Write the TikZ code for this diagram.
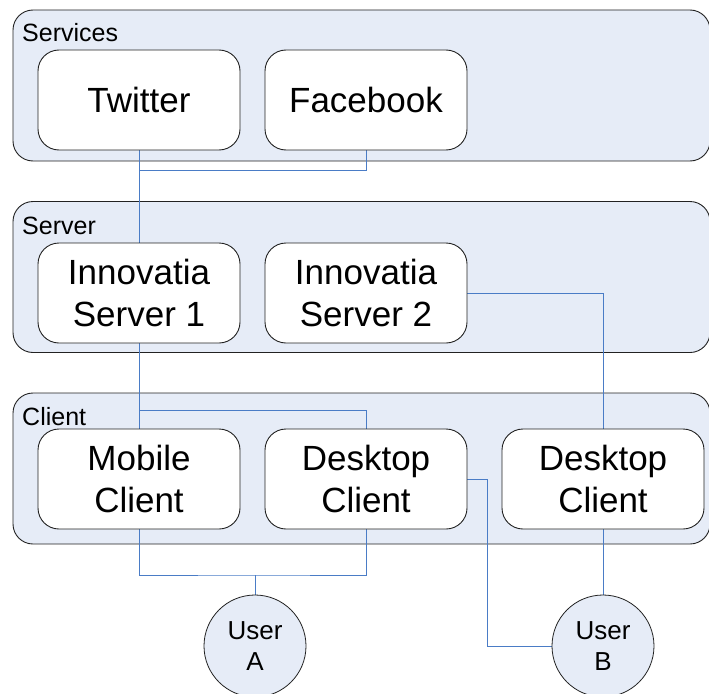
\documentclass[tikz,border=0pt]{standalone}
\usepackage{fontspec}
\setmainfont{Liberation Sans}
\definecolor{panel}{HTML}{E6ECF7}
\definecolor{wire}{HTML}{4A7CC6}
\definecolor{edge}{HTML}{222222}
\pgfdeclarelayer{panels}
\pgfdeclarelayer{wires}
\pgfsetlayers{panels,wires,main}
\begin{document}
\begin{tikzpicture}[x=1pt,y=-1pt,
  container/.style={draw=edge, line width=0.9pt, fill=panel, rounded corners=20pt,
    minimum width=697pt, minimum height=151pt, inner sep=0pt},
  grouplabel/.style={anchor=base west, inner sep=0pt, font=\fontsize{25}{30}\selectfont},
  appbox/.style={draw=edge, line width=0.9pt, fill=white, rounded corners=21pt,
    minimum width=202pt, minimum height=100pt, inner sep=0pt, align=center,
    font=\fontsize{35}{42}\selectfont},
  userbox/.style={draw=edge, line width=0.8pt, fill=panel, circle, minimum size=102pt,
    inner sep=0pt, align=center, font=\fontsize{26}{31}\selectfont},
  link/.style={draw=wire, line width=1pt}]
\useasboundingbox (0,0) rectangle (709,693);
\clip (0,0) rectangle (709,693);

% containers
\begin{pgfonlayer}{panels}
\node[container] (services) at (361.5,85.5) {};
\node[container] (server) at (361.5,277) {};
\node[container] (client) at (361.5,468.5) {};
\end{pgfonlayer}
\node[grouplabel] (lservices) at (22,42) {Services};
\node[grouplabel] (lserver) at (22,234) {Server};
\node[grouplabel] (lclient) at (22,425) {Client};

% boxes
\path
  (139,100) node[appbox] (twitter) {Twitter}
  (366,100) node[appbox] (facebook) {Facebook}
  (139,293) node[appbox] (srv1) {Innovatia\\Server 1}
  (366,293) node[appbox] (srv2) {Innovatia\\Server 2}
  (139,479) node[appbox] (mobile) {Mobile\\Client}
  (366,479) node[appbox] (desk1) {Desktop\\Client}
  (603,479) node[appbox] (desk2) {Desktop\\Client}
  (255,646) node[userbox] (ua) {User\\A}
  (603,646) node[userbox] (ub) {User\\B};

% junction coordinates
\coordinate (j1) at (139,170);
\coordinate (j2) at (139,410);
\coordinate (j3) at (255,575);

% connectors
\begin{pgfonlayer}{wires}
\draw[link] (twitter.south) -- (srv1.north);
\draw[link] (facebook.south) |- (j1);
\draw[link] (srv1.south) -- (mobile.north);
\draw[link] (desk1.north) |- (j2);
\draw[link] (srv2.east) -| (desk2.north);
\draw[link] (mobile.south) |- (j3) -| (desk1.south);
\draw[link] (j3) -- (ua.north);
\draw[link] (desk1.east) -- ++(20,0) |- (ub.west);
\draw[link] (desk2.south) -- (ub.north);
\end{pgfonlayer}
\end{tikzpicture}
\end{document}
